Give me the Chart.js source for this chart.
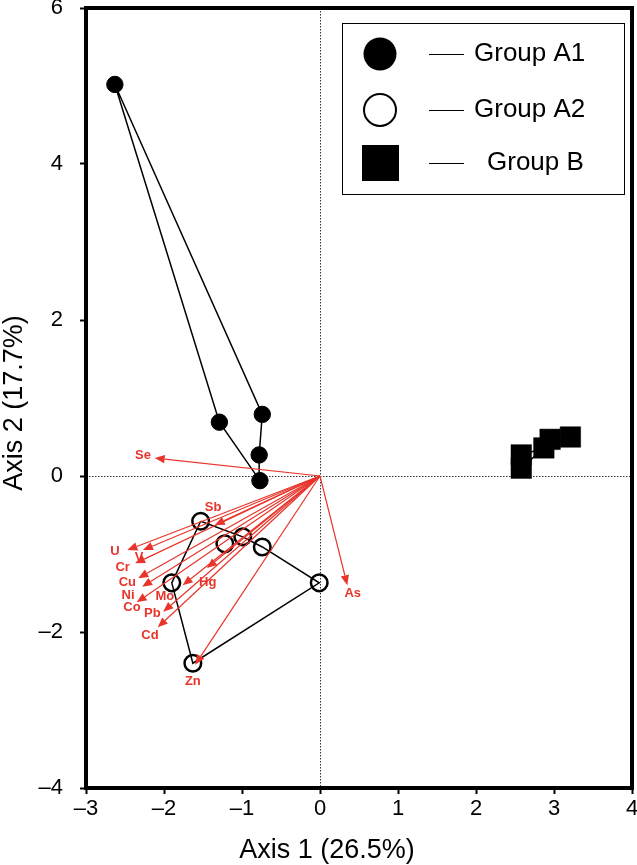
<!DOCTYPE html>
<html lang="en">
<head>
  <meta charset="UTF-8">
  <title>PCA biplot</title>
  <script src="https://cdn.jsdelivr.net/npm/chart.js@4.4.0/dist/chart.umd.min.js"></script>
  <style>
    html, body { margin: 0; padding: 0; background: #fff; }
  </style>
</head>
<body>
  <canvas id="biplot" width="637" height="865"></canvas>

  <script>
    // group scores (Axis 1, Axis 2)
    const a1X = [-2.63, -1.29, -0.74, -0.78, -0.77];
    const a1Y = [5.02, 0.69, 0.79, 0.27, -0.06];
    const a1Hull = [0, 1, 4, 3, 2, 0];

    const a2X = [-1.53, -1.22, -0.99, -0.74, -0.01, -1.90, -1.63];
    const a2Y = [-0.58, -0.87, -0.78, -0.91, -1.37, -1.37, -2.40];
    const a2Hull = [0, 2, 3, 4, 6, 5, 0];

    const bX = [2.58, 2.58, 2.87, 2.95, 3.21];
    const bY = [0.27, 0.10, 0.36, 0.47, 0.50];
    const bHull = [1, 0, 2, 4, 3, 2, 1];

    // element loadings (arrow tips)
    const elements = ['Se', 'U', 'V', 'Cr', 'Cu', 'Ni', 'Co', 'Mo', 'Hg', 'Pb', 'Cd', 'Zn', 'As', 'Sb'];
    const loadX = [-2.12, -2.47, -2.27, -2.37, -2.33, -2.28, -2.35, -1.76, -1.45, -2.01, -2.08, -1.60, 0.35, -1.35];
    const loadY = [0.23, -0.95, -0.95, -1.12, -1.31, -1.42, -1.62, -1.40, -1.18, -1.74, -1.94, -2.42, -1.40, -0.63];
    const labelX = [-2.27, -2.63, -2.32, -2.53, -2.47, -2.46, -2.41, -1.99, -1.44, -2.15, -2.18, -1.63, 0.42, -1.37];
    const labelY = [0.26, -0.97, -1.04, -1.17, -1.36, -1.53, -1.68, -1.55, -1.36, -1.76, -2.04, -2.64, -1.50, -0.40];

    const groupNames = ['Group A1', 'Group A2', 'Group B'];
    const xTitle = 'Axis 1 (26.5%)';
    const yTitle = 'Axis 2 (17.7%)';
    const xTicks = [-3, -2, -1, 0, 1, 2, 3, 4];
    const yTicks = [-4, -2, 0, 2, 4, 6];

    const RED = 'rgb(232,52,42)';
    const FONT = '"Liberation Sans", Arial, sans-serif';

    function pts(xs, ys) {
      return xs.map((v, i) => ({ x: v, y: ys[i] }));
    }
    function hull(xs, ys, idx) {
      return idx.map(i => ({ x: xs[i], y: ys[i] }));
    }
    function minusSign(v) {
      return v < 0 ? '\u2013' + Math.abs(v) : String(v);
    }

    const biplotDecor = {
      id: 'biplotDecor',
      beforeDatasetsDraw(chart) {
        const { ctx, chartArea: a, scales: { x, y } } = chart;
        const px = Math.round(x.getPixelForValue(0)) + 0.5;
        const py = Math.round(y.getPixelForValue(0)) + 0.5;
        ctx.save();
        ctx.strokeStyle = '#333';
        ctx.lineWidth = 1;
        ctx.setLineDash([1.5, 1.5]);
        ctx.beginPath();
        ctx.moveTo(px, a.top);
        ctx.lineTo(px, a.bottom);
        ctx.moveTo(a.left, py);
        ctx.lineTo(a.right, py);
        ctx.stroke();
        ctx.restore();
      },
      afterDatasetsDraw(chart) {
        const { ctx, scales: { x, y } } = chart;
        const ox = x.getPixelForValue(0), oy = y.getPixelForValue(0);
        ctx.save();
        ctx.strokeStyle = RED;
        ctx.fillStyle = RED;
        ctx.lineWidth = 1.2;
        elements.forEach((el, i) => {
          const tx = x.getPixelForValue(loadX[i]);
          const ty = y.getPixelForValue(loadY[i]);
          const ang = Math.atan2(ty - oy, tx - ox);
          const hl = 10, hw = 4.2;
          const bx = tx - hl * Math.cos(ang), by = ty - hl * Math.sin(ang);
          ctx.beginPath();
          ctx.moveTo(ox, oy);
          ctx.lineTo(bx, by);
          ctx.stroke();
          ctx.beginPath();
          ctx.moveTo(tx, ty);
          ctx.lineTo(bx + hw * Math.sin(ang), by - hw * Math.cos(ang));
          ctx.lineTo(bx - hw * Math.sin(ang), by + hw * Math.cos(ang));
          ctx.closePath();
          ctx.fill();
        });
        ctx.font = 'bold 13px ' + FONT;
        ctx.textAlign = 'center';
        ctx.textBaseline = 'middle';
        elements.forEach((el, i) => {
          ctx.fillText(el, x.getPixelForValue(labelX[i]), y.getPixelForValue(labelY[i]));
        });
        ctx.restore();
      },
      afterDraw(chart) {
        const { ctx, chartArea: a } = chart;
        ctx.save();
        // frame
        ctx.strokeStyle = '#000';
        ctx.lineWidth = 4;
        ctx.strokeRect(a.left, a.top, a.right - a.left, a.bottom - a.top);

        // axis titles
        ctx.fillStyle = '#000';
        ctx.font = '27px ' + FONT;
        ctx.textAlign = 'center';
        ctx.textBaseline = 'middle';
        ctx.fillText(xTitle, 327, 851);
        ctx.save();
        ctx.translate(15, 403);
        ctx.rotate(-Math.PI / 2);
        ctx.fillText(yTitle, 0, 0);
        ctx.restore();

        // legend box
        ctx.lineWidth = 1;
        ctx.fillStyle = '#fff';
        ctx.fillRect(342.5, 23.5, 282, 171);
        ctx.strokeRect(342.5, 23.5, 282, 171);
        const rows = [54, 110, 163];
        ctx.fillStyle = '#000';
        // filled circle
        ctx.beginPath();
        ctx.arc(380, rows[0], 16.5, 0, Math.PI * 2);
        ctx.fill();
        // open circle
        ctx.beginPath();
        ctx.arc(380, rows[1], 16, 0, Math.PI * 2);
        ctx.lineWidth = 2;
        ctx.stroke();
        // square
        ctx.fillRect(362, rows[2] - 18, 37, 36);
        ctx.lineWidth = 1.2;
        rows.forEach(r => {
          ctx.beginPath();
          ctx.moveTo(429, r + 0.5);
          ctx.lineTo(464, r + 0.5);
          ctx.stroke();
        });
        ctx.font = '26px ' + FONT;
        ctx.textAlign = 'left';
        ctx.textBaseline = 'middle';
        ctx.fillText(groupNames[0], 474, rows[0]);
        ctx.fillText(groupNames[1], 474, rows[1]);
        ctx.fillText(groupNames[2], 487, rows[2]);
        ctx.restore();
      }
    };

    const hullStyle = {
      showLine: true,
      borderColor: '#000',
      borderWidth: 1.5,
      pointRadius: 0,
      fill: false,
      order: 3
    };

    new Chart(document.getElementById('biplot'), {
      type: 'scatter',
      data: {
        datasets: [
          Object.assign({ label: 'A1 hull', data: hull(a1X, a1Y, a1Hull) }, hullStyle),
          Object.assign({ label: 'A2 hull', data: hull(a2X, a2Y, a2Hull) }, hullStyle),
          Object.assign({ label: 'B hull', data: hull(bX, bY, bHull) }, hullStyle),
          {
            label: groupNames[0], data: pts(a1X, a1Y), order: 1,
            pointStyle: 'circle', pointRadius: 8.2, borderWidth: 1,
            backgroundColor: '#000', borderColor: '#000'
          },
          {
            label: groupNames[1], data: pts(a2X, a2Y), order: 1,
            pointStyle: 'circle', pointRadius: 8.3, borderWidth: 2.5,
            backgroundColor: 'rgba(0,0,0,0)', borderColor: '#000'
          },
          {
            label: groupNames[2], data: pts(bX, bY), order: 1,
            pointStyle: 'rect', pointRadius: 14.5, borderWidth: 0.5,
            backgroundColor: '#000', borderColor: '#000'
          }
        ]
      },
      options: {
        responsive: false,
        animation: false,
        devicePixelRatio: 1,
        layout: { autoPadding: false, padding: { top: 8, right: 5, left: 0, bottom: 0 } },
        plugins: { legend: { display: false }, tooltip: { enabled: false } },
        scales: {
          x: {
            type: 'linear', min: -3, max: 4,
            afterFit: s => { s.height = 77; s.paddingLeft = 0; s.paddingRight = 0; },
            afterBuildTicks: s => { s.ticks = xTicks.map(v => ({ value: v })); },
            grid: { drawOnChartArea: false, drawTicks: true, tickLength: 6, tickColor: '#000', tickWidth: 2 },
            border: { display: false },
            ticks: {
              color: '#000', padding: 2,
              font: { family: FONT, size: 22 },
              callback: v => minusSign(v)
            },
            title: { display: false }
          },
          y: {
            type: 'linear', min: -4, max: 6,
            afterFit: s => { s.width = 86; s.paddingTop = 0; s.paddingBottom = 0; },
            afterBuildTicks: s => { s.ticks = yTicks.map(v => ({ value: v })); },
            grid: { drawOnChartArea: false, drawTicks: true, tickLength: 6, tickColor: '#000', tickWidth: 2 },
            border: { display: false },
            ticks: {
              color: '#000', padding: 17,
              font: { family: FONT, size: 22 },
              callback: v => minusSign(v)
            },
            title: { display: false }
          }
        }
      },
      plugins: [biplotDecor]
    });
  </script>
</body>
</html>
